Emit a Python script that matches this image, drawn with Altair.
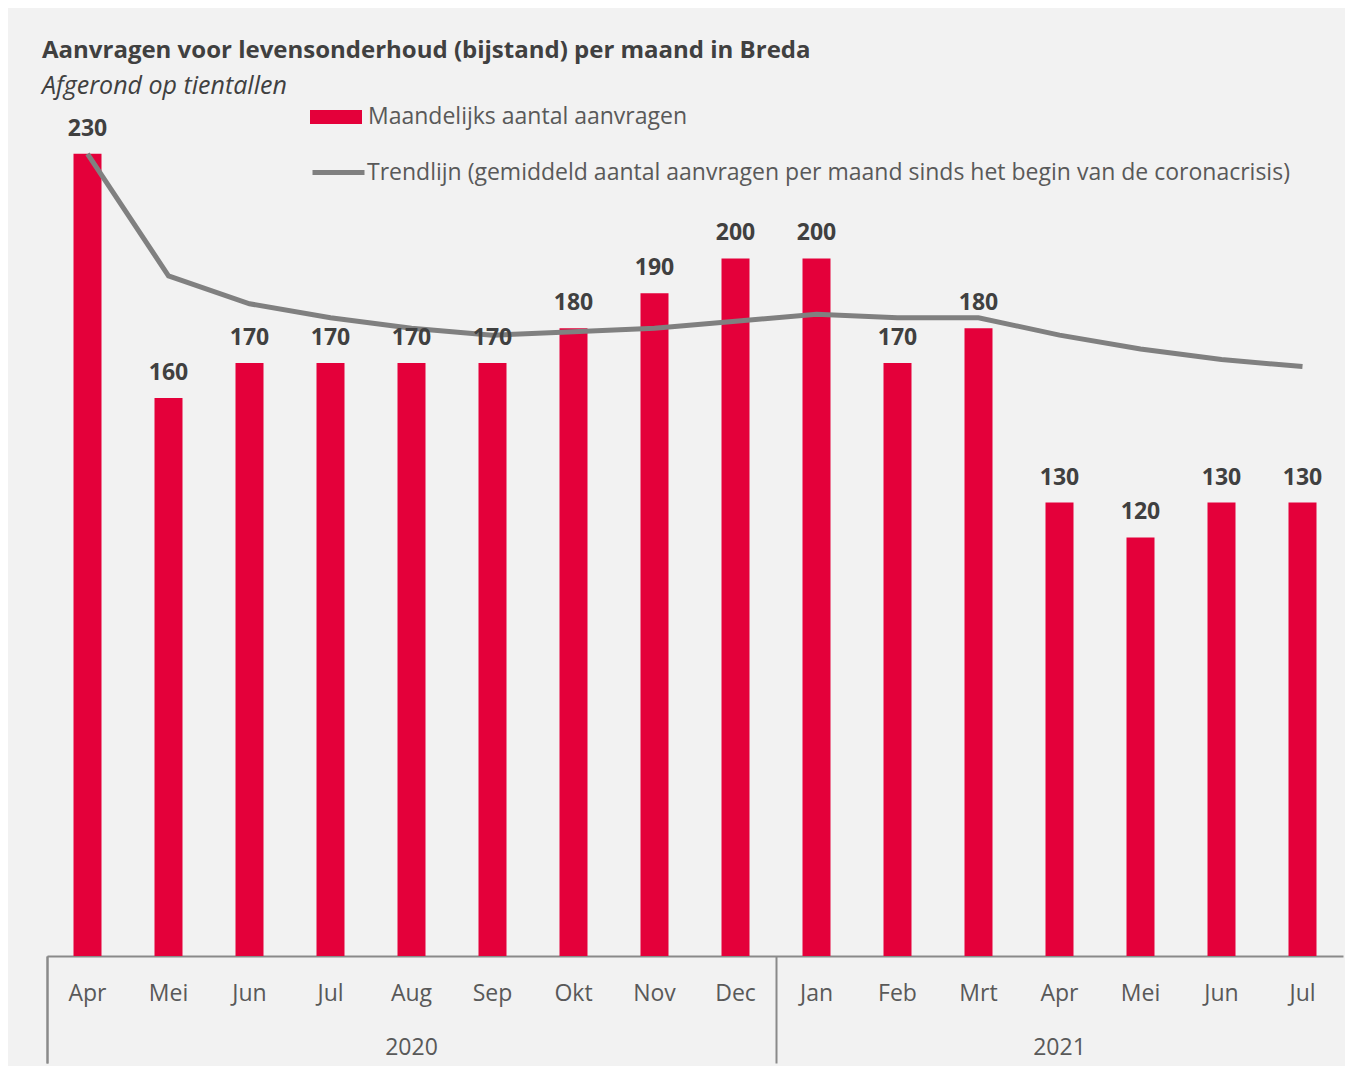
import altair as alt
import pandas as pd

months = ["Apr", "Mei", "Jun", "Jul", "Aug", "Sep", "Okt", "Nov", "Dec",
          "Jan", "Feb", "Mrt", "Apr", "Mei", "Jun", "Jul"]
years = ["2020"] * 9 + ["2021"] * 7
aanvragen = [230, 160, 170, 170, 170, 170, 180, 190, 200, 200, 170, 180, 130, 120, 130, 130]
trendlijn = [230, 195, 187, 183, 180, 178, 179, 180, 182, 184, 183, 183, 178, 174, 171, 169]

series_bar = "Maandelijks aantal aanvragen"
series_line = "Trendlijn (gemiddeld aantal aanvragen per maand sinds het begin van de coronacrisis)"
title_text = "Aanvragen voor levensonderhoud (bijstand) per maand in Breda"
subtitle_text = "Afgerond op tientallen"

keys = [f"{y}-{m}" for y, m in zip(years, months)]
df = pd.DataFrame({
    "key": keys, "maand": months, "jaar": years,
    "aanvragen": aanvragen, "trend": trendlijn,
    "s_bar": series_bar, "s_line": series_line,
})

FONT = "Open Sans"
RED = "#e4003a"
GRAY = "#808080"
AXIS_GRAY = "#8a8a8a"
LABEL = "#595959"
DARK = "#404040"

xscale = alt.Scale(domain=keys, paddingInner=0, paddingOuter=0)
yscale = alt.Scale(domain=[0, 250], nice=False, zero=True)

base = alt.Chart(df)

bars = base.mark_bar(size=28).encode(
    x=alt.X("key:N", scale=xscale, title=None,
            axis=alt.Axis(orient="bottom", labelExpr="split(datum.label, '-')[1]",
                          ticks=False, domain=True, domainColor=AXIS_GRAY, domainWidth=2,
                          labelPadding=26, labelFont=FONT, labelFontSize=23,
                          labelColor=LABEL, labelAngle=0, grid=False)),
    y=alt.Y("aanvragen:Q", scale=yscale, axis=None),
    fill=alt.Fill("s_bar:N", scale=alt.Scale(domain=[series_bar], range=[RED]),
                  legend=alt.Legend(orient="none", legendX=263, legendY=7, title=None,
                                    symbolType="M-1,-0.27L1,-0.27L1,0.27L-1,0.27Z",
                                    symbolSize=2704, symbolStrokeWidth=0,
                                    labelFont=FONT, labelFontSize=23, labelColor=LABEL,
                                    labelOffset=6, labelLimit=1200)),
)

line = base.mark_line(strokeWidth=5).encode(
    x=alt.X("key:N", scale=xscale, title=None,
            axis=alt.Axis(orient="bottom", values=["2020-Aug", "2021-Apr"],
                          labelExpr="split(datum.label, '-')[0]",
                          ticks=False, domain=False, labelPadding=80,
                          labelFont=FONT, labelFontSize=23, labelColor=LABEL,
                          labelAngle=0, grid=False)),
    y=alt.Y("trend:Q", scale=yscale, axis=None),
    stroke=alt.Stroke("s_line:N", scale=alt.Scale(domain=[series_line], range=[GRAY]),
                      legend=alt.Legend(orient="none", legendX=263, legendY=60, title=None,
                                        symbolType="stroke", symbolSize=2704,
                                        symbolStrokeWidth=5,
                                        labelFont=FONT, labelFontSize=23, labelColor=LABEL,
                                        labelOffset=0, labelLimit=1200)),
)

labels = base.mark_text(dy=-18, baseline="alphabetic", fontWeight="bold",
                        font=FONT, fontSize=23, color=DARK).encode(
    x=alt.X("key:N", scale=xscale, title=None,
            axis=alt.Axis(orient="bottom", values=["2020-Apr", "2021-Jan"],
                          bandPosition=0, tickExtra=True, labels=False, domain=False,
                          ticks=True, tickSize=107, tickColor=AXIS_GRAY, tickWidth=2,
                          grid=False)),
    y=alt.Y("aanvragen:Q", scale=yscale, axis=None),
    text=alt.Text("aanvragen:Q"),
)

chart = alt.layer(bars, line, labels).resolve_axis(x="independent").properties(
    width=1296, height=872,
    padding={"left": 39, "top": 76, "right": 2, "bottom": 110},
    autosize=alt.AutoSizeParams(type="none"),
    background="#f2f2f2",
    title=alt.Title(text=title_text, subtitle=subtitle_text, anchor="start", frame="group",
                    dx=-5, offset=-15, font=FONT, fontSize=24, fontWeight="bold",
                    color=DARK, subtitleFont=FONT, subtitleFontSize=25,
                    subtitleFontStyle="italic", subtitleColor=DARK, subtitlePadding=11),
).configure_view(stroke=None)

chart.save("out.html", embed_options={"renderer": "svg", "actions": False})
